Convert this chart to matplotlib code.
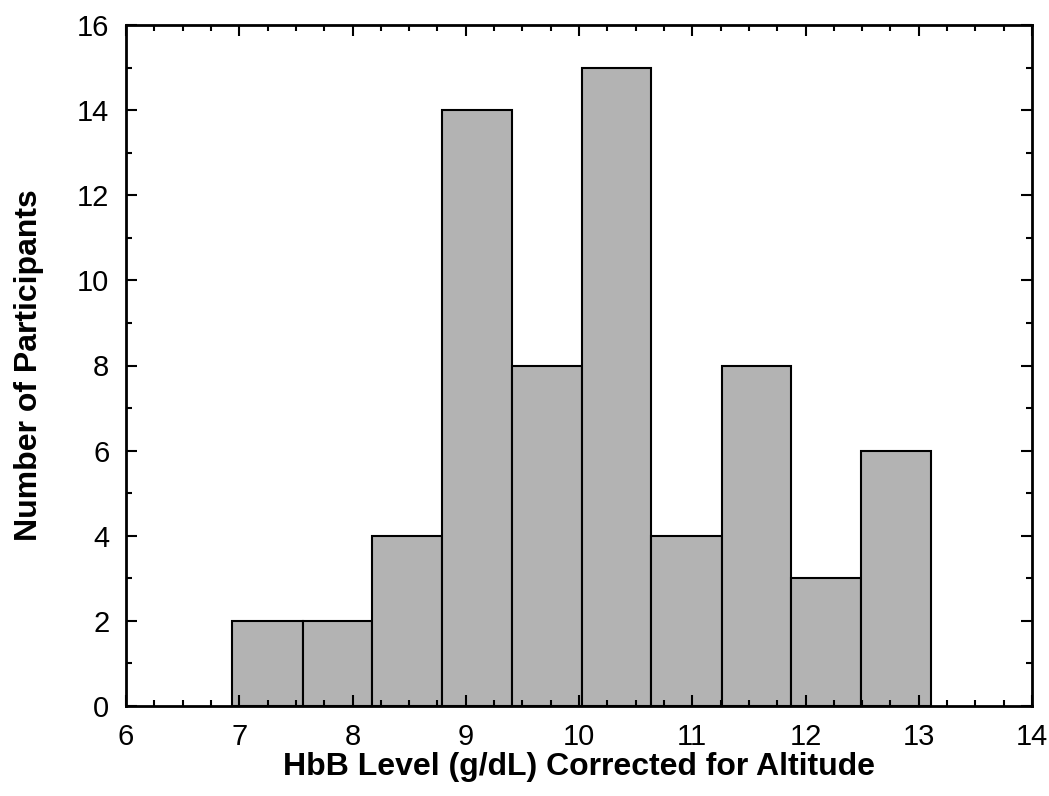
import matplotlib
matplotlib.use("Agg")
import matplotlib.pyplot as plt
from matplotlib.ticker import MultipleLocator

# histogram bins
bin_edges = [6.94, 7.56, 8.17, 8.79, 9.41, 10.03, 10.64, 11.26, 11.87, 12.49, 13.11]
counts = [2, 2, 4, 14, 8, 15, 4, 8, 3, 6]

plt.rcParams["font.family"] = ["Liberation Sans", "DejaVu Sans"]

fig = plt.figure(figsize=(10.49, 7.96), dpi=100)
ax = fig.add_axes([126 / 1049, 90 / 796, 906 / 1049, 681 / 796])

ax.hist(bin_edges[:-1], bins=bin_edges, weights=counts,
        color="#b3b3b3", edgecolor="black", linewidth=1.5)

ax.set_xlim(6, 14)
ax.set_ylim(0, 16)
ax.xaxis.set_major_locator(MultipleLocator(1))
ax.xaxis.set_minor_locator(MultipleLocator(0.25))
ax.yaxis.set_major_locator(MultipleLocator(2))
ax.yaxis.set_minor_locator(MultipleLocator(1))

ax.tick_params(which="both", direction="in", top=True, right=True, width=1.5)
ax.tick_params(which="major", length=8, labelsize=21, pad=12)
ax.tick_params(which="minor", length=4)
for s in ax.spines.values():
    s.set_linewidth(2)

ax.set_xlabel("HbB Level (g/dL) Corrected for Altitude", fontsize=23,
              fontweight="bold", labelpad=1)
ax.set_ylabel("Number of Participants", fontsize=23, fontweight="bold",
              labelpad=24)

fig.savefig("out.png", dpi=100)
